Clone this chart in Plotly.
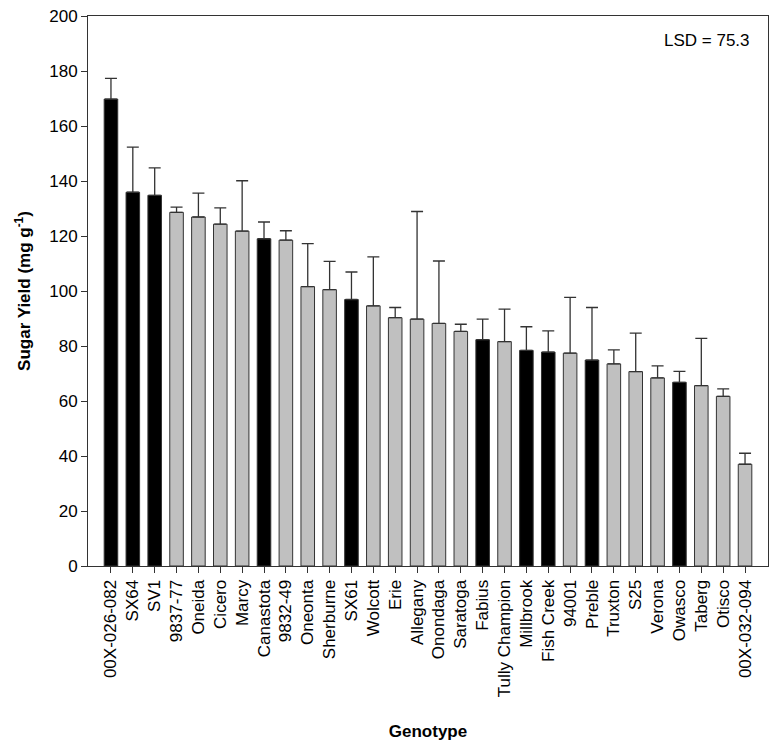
import plotly.graph_objects as go

genotypes = ["00X-026-082", "SX64", "SV1", "9837-77", "Oneida", "Cicero", "Marcy",
             "Canastota", "9832-49", "Oneonta", "Sherburne", "SX61", "Wolcott", "Erie",
             "Allegany", "Onondaga", "Saratoga", "Fabius", "Tully Champion", "Millbrook",
             "Fish Creek", "94001", "Preble", "Truxton", "S25", "Verona", "Owasco",
             "Taberg", "Otisco", "00X-032-094"]
sugar_yield = [169.8, 135.9, 134.8, 128.6, 126.9, 124.3, 121.8, 119.0, 118.5, 101.6,
               100.5, 96.9, 94.6, 90.3, 89.8, 88.2, 85.3, 82.3, 81.6, 78.4,
               77.8, 77.4, 74.9, 73.5, 70.7, 68.4, 66.8, 65.6, 61.7, 37.0]
error_top = [177.3, 152.3, 144.8, 130.5, 135.6, 130.2, 140.1, 125.1, 121.9, 117.2,
             110.8, 106.9, 112.4, 94.0, 128.9, 110.9, 87.9, 89.8, 93.4, 87.0,
             85.5, 97.7, 94.0, 78.6, 84.7, 72.8, 70.8, 82.8, 64.4, 41.0]
group = ["black", "black", "black", "gray", "gray", "gray", "gray", "black", "gray", "gray",
         "gray", "black", "gray", "gray", "gray", "gray", "gray", "black", "gray", "black",
         "black", "gray", "black", "gray", "gray", "gray", "black", "gray", "gray", "gray"]

color_map = {"black": "#000000", "gray": "#C0C0C0"}
colors = [color_map[g] for g in group]
err_plus = [e - v for e, v in zip(error_top, sugar_yield)]
x_idx = list(range(len(genotypes)))

fig = go.Figure()
fig.add_trace(go.Bar(
    x=x_idx, y=sugar_yield, width=0.62,
    marker=dict(color=colors, line=dict(color="#333333", width=1)),
    error_y=dict(type="data", symmetric=False, array=err_plus,
                 arrayminus=[0] * len(genotypes),
                 color="#333333", thickness=1.3, width=6),
    showlegend=False,
))

font_family = "Liberation Sans, Arial, sans-serif"
fig.update_layout(
    width=769, height=740,
    margin=dict(l=80, r=9, t=8, b=182, autoexpand=False),
    plot_bgcolor="white", paper_bgcolor="white",
    font=dict(family=font_family, size=17, color="black"),
    xaxis=dict(
        range=[-1.05, 30.05], automargin=False,
        tickmode="array", tickvals=x_idx, ticktext=genotypes,
        tickangle=-90, ticks="outside", ticklen=6, tickwidth=1, tickcolor="#333333",
        showline=True, linecolor="#333333", linewidth=1, mirror=True,
        showgrid=False, zeroline=False,
        tickfont=dict(size=17, family=font_family),
        title=dict(text="<b>Genotype</b>", font=dict(size=17), standoff=28),
    ),
    yaxis=dict(
        range=[0, 200], tickmode="linear", tick0=0, dtick=20, automargin=False,
        ticklabeloverflow="allow",
        ticks="outside", ticklen=6, tickwidth=1, tickcolor="#333333",
        showline=True, linecolor="#333333", linewidth=1, mirror=True,
        showgrid=False, zeroline=False,
        tickfont=dict(size=17, family=font_family),
        title=dict(text="<b>Sugar Yield (mg g<sup>-1</sup>)</b>", font=dict(size=17), standoff=14),
    ),
    annotations=[dict(
        text="LSD = 75.3", xref="paper", yref="paper", x=0.976, y=0.956,
        xanchor="right", yanchor="middle", showarrow=False,
        font=dict(size=17, family=font_family, color="black"),
    )],
)

fig.write_html("out.html")
